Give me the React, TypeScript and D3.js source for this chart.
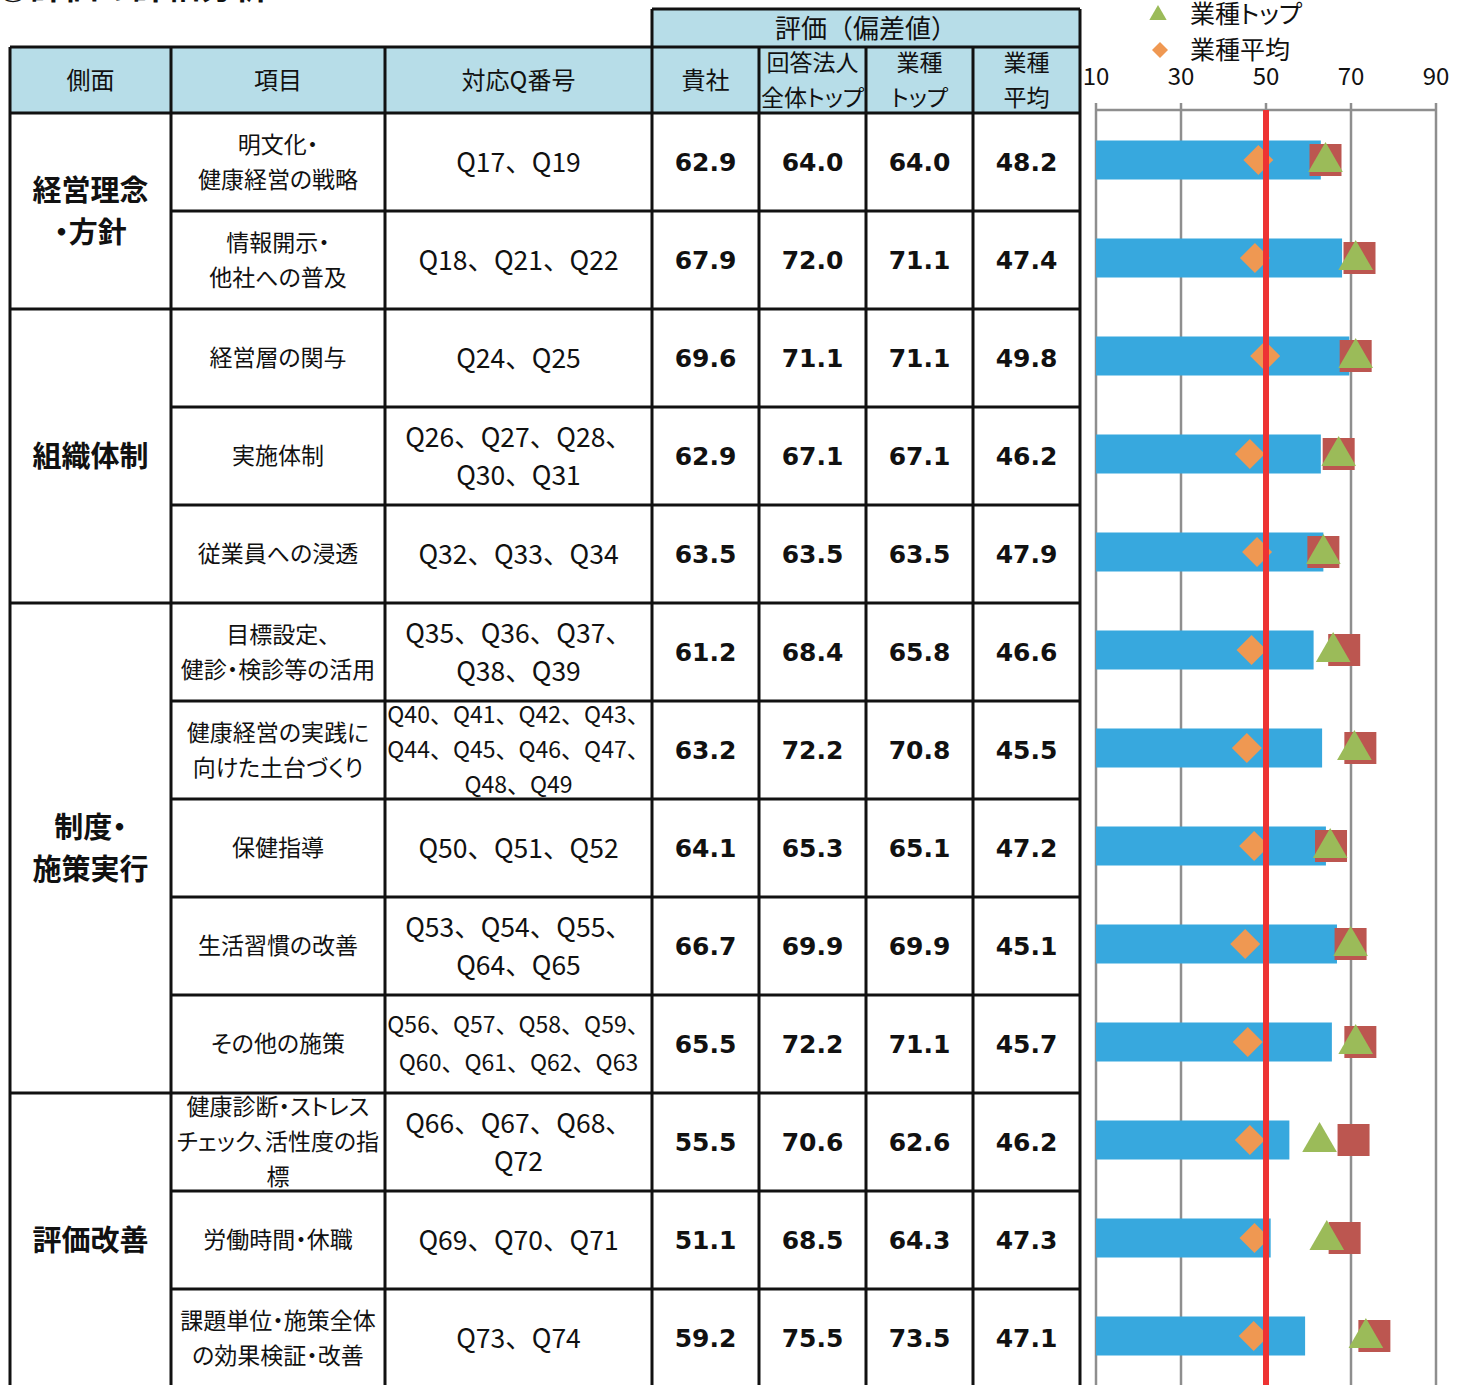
import React from 'react';
import * as d3 from 'd3';

const groups = ['経営理念\n・方針', '組織体制', '制度・\n施策実行', '評価改善'];
const groupSizes = [2, 3, 5, 3];

const items = [
  '明文化・\n健康経営の戦略',
  '情報開示・\n他社への普及',
  '経営層の関与',
  '実施体制',
  '従業員への浸透',
  '目標設定、\n健診・検診等の活用',
  '健康経営の実践に\n向けた土台づくり',
  '保健指導',
  '生活習慣の改善',
  'その他の施策',
  '健康診断・ストレス\nチェック、活性度の指\n標',
  '労働時間・休職',
  '課題単位・施策全体\nの効果検証・改善',
];

const questions = [
  'Q17、Q19',
  'Q18、Q21、Q22',
  'Q24、Q25',
  'Q26、Q27、Q28、\nQ30、Q31',
  'Q32、Q33、Q34',
  'Q35、Q36、Q37、\nQ38、Q39',
  'Q40、Q41、Q42、Q43、\nQ44、Q45、Q46、Q47、\nQ48、Q49',
  'Q50、Q51、Q52',
  'Q53、Q54、Q55、\nQ64、Q65',
  'Q56、Q57、Q58、Q59、\nQ60、Q61、Q62、Q63',
  'Q66、Q67、Q68、\nQ72',
  'Q69、Q70、Q71',
  'Q73、Q74',
];

const company = [62.9, 67.9, 69.6, 62.9, 63.5, 61.2, 63.2, 64.1, 66.7, 65.5, 55.5, 51.1, 59.2];
const overallTop = [64.0, 72.0, 71.1, 67.1, 63.5, 68.4, 72.2, 65.3, 69.9, 72.2, 70.6, 68.5, 75.5];
const industryTop = [64.0, 71.1, 71.1, 67.1, 63.5, 65.8, 70.8, 65.1, 69.9, 71.1, 62.6, 64.3, 73.5];
const industryAvg = [48.2, 47.4, 49.8, 46.2, 47.9, 46.6, 45.5, 47.2, 45.1, 45.7, 46.2, 47.3, 47.1];

const axisTicks = [10, 30, 50, 70, 90];
const referenceValue = 50;

const W = 1462;
const H = 1385;
const FONT = "'Noto Sans CJK JP', 'Noto Sans', sans-serif";
const NUM_FONT = "'DejaVu Sans', Verdana, sans-serif";
const PALT = { fontFeatureSettings: '"palt"' } as React.CSSProperties;

const colX = [10, 171, 385, 652, 759, 866, 973, 1080];
const headTop = 47;
const evalTop = 9;
const bodyTop = 113;
const rowH = 98;

const C = {
  header: '#b7dde8',
  bar: '#37a8de',
  diamond: '#ef9852',
  square: '#bc5650',
  triangle: '#9bbb59',
  ref: '#ee3333',
  grid: '#8e8e8e',
};

const MultiLine: React.FC<{ x: number; y: number; text: string; gap: number; size: number; bold?: boolean; palt?: boolean }> = ({ x, y, text, gap, size, bold, palt = true }) => {
  const lines = text.split('\n');
  const start = y - 2 - ((lines.length - 1) * gap) / 2;
  return (
    <text x={x} textAnchor="middle" fontSize={size} fontWeight={bold ? 700 : 400} fontFamily={FONT} fill="#111" style={palt ? PALT : undefined}>
      {lines.map((l, i) => (
        <tspan key={i} x={x} y={start + i * gap} dominantBaseline="central">{l}</tspan>
      ))}
    </text>
  );
};

export default function App() {
  const n = items.length;
  const rows = d3.range(n);
  const yBand = d3.scaleBand<number>().domain(rows).range([bodyTop, bodyTop + n * rowH]).padding(0);
  const rowMid = (i: number) => (yBand(i) as number) + rowH / 2;

  const x = d3.scaleLinear().domain([10, 90]).range([1096, 1436]);
  const markY = (i: number) => rowMid(i) - 2;
  const barH = 39;
  const sq = 32;
  const tri = d3.symbol().type(d3.symbolTriangle).size(520)();
  const dia = (cx: number, cy: number, r: number) => `M${cx},${cy - r}L${cx + r},${cy}L${cx},${cy + r}L${cx - r},${cy}Z`;

  const groupStarts: number[] = [];
  groupSizes.reduce((acc, s) => { groupStarts.push(acc); return acc + s; }, 0);

  const valueCols = [company, overallTop, industryTop, industryAvg];
  const bottom = bodyTop + n * rowH;

  // long question lists are shrunk to fit the cell
  const qSize = (q: string) => (q.split('\n').some(l => l.split('Q').length - 1 > 3) ? 23 : 26.5);

  return (
    <div style={{ position: 'absolute', left: 0, top: 0 }}>
      <svg width={W} height={H} style={{ display: 'block', background: '#fff' }}>
        {/* title, mostly cut off */}
        <text x={-4} y={-1} fontSize={34} fontWeight={700} fontFamily={FONT} fill="#111">①評価の詳細分析</text>

        {/* header fills */}
        <rect x={colX[0]} y={headTop} width={colX[3] - colX[0]} height={bodyTop - headTop} fill={C.header} />
        <rect x={colX[3]} y={evalTop} width={colX[7] - colX[3]} height={bodyTop - evalTop} fill={C.header} />

        {/* header texts */}
        <MultiLine x={(colX[0] + colX[1]) / 2} y={80} gap={35} size={24} text="側面" />
        <MultiLine x={(colX[1] + colX[2]) / 2} y={80} gap={35} size={24} text="項目" />
        <MultiLine x={(colX[2] + colX[3]) / 2} y={80} gap={35} size={24} text="対応Q番号" />
        <MultiLine x={(colX[3] + colX[7]) / 2} y={28} gap={35} size={26} text="評価（偏差値）" palt={false} />
        <MultiLine x={(colX[3] + colX[4]) / 2} y={80} gap={35} size={24} text="貴社" />
        <MultiLine x={(colX[4] + colX[5]) / 2} y={80} gap={35} size={23} text={'回答法人\n全体トップ'} />
        <MultiLine x={(colX[5] + colX[6]) / 2} y={80} gap={35} size={23} text={'業種\nトップ'} />
        <MultiLine x={(colX[6] + colX[7]) / 2} y={80} gap={35} size={23} text={'業種\n平均'} />

        {/* body texts */}
        {groups.map((g, gi) => {
          const y0 = yBand(groupStarts[gi]) as number;
          const y1 = y0 + groupSizes[gi] * rowH;
          return <MultiLine key={gi} x={(colX[0] + colX[1]) / 2} y={(y0 + y1) / 2} gap={42} size={29} bold text={g} />;
        })}
        {rows.map(i => (
          <g key={i}>
            <MultiLine x={(colX[1] + colX[2]) / 2} y={rowMid(i)} gap={35} size={23} text={items[i]} />
            <MultiLine x={(colX[2] + colX[3]) / 2} y={rowMid(i)} gap={questions[i].split('\n').length > 2 ? 35 : 38} size={qSize(questions[i])} text={questions[i]} palt={false} />
            {valueCols.map((col, ci) => (
              <text key={ci} x={(colX[3 + ci] + colX[4 + ci]) / 2} y={rowMid(i)} dominantBaseline="central" textAnchor="middle" fontSize={25} fontWeight={700} fontFamily={NUM_FONT} fill="#111">
                {col[i].toFixed(1)}
              </text>
            ))}
          </g>
        ))}

        {/* table lines */}
        <g stroke="#111" strokeWidth={3} fill="none">
          <line x1={colX[0]} x2={colX[3]} y1={headTop} y2={headTop} />
          <line x1={colX[3]} x2={colX[7]} y1={evalTop} y2={evalTop} />
          <line x1={colX[3]} x2={colX[7]} y1={headTop} y2={headTop} />
          <line x1={colX[0]} x2={colX[7]} y1={bodyTop} y2={bodyTop} />
          {rows.slice(1).map(i => (
            <line key={i} x1={groupStarts.includes(i) ? colX[0] : colX[1]} x2={colX[7]} y1={yBand(i) as number} y2={yBand(i) as number} />
          ))}
          {colX.map((cx, ci) => (
            <line key={ci} x1={cx} x2={cx} y1={ci === 3 || ci === 7 ? evalTop : headTop} y2={bottom} />
          ))}
        </g>

        {/* chart: gridlines and axis */}
        <g>
          {axisTicks.map(t => (
            <g key={t}>
              <line x1={x(t)} x2={x(t)} y1={103} y2={H} stroke={C.grid} strokeWidth={2.5} />
              <text x={x(t)} y={74} dominantBaseline="central" textAnchor="middle" fontSize={24} fontFamily={FONT} fill="#111">{t}</text>
            </g>
          ))}
          <line x1={x(10)} x2={x(90)} y1={110} y2={110} stroke={C.grid} strokeWidth={2.5} />
        </g>

        {/* bars and markers */}
        {rows.map(i => (
          <rect key={'b' + i} x={x(10)} y={markY(i) - barH / 2} width={x(company[i]) - x(10)} height={barH} fill={C.bar} />
        ))}
        {rows.map(i => (
          <path key={'d' + i} d={dia(x(industryAvg[i]), markY(i), 15)} fill={C.diamond} />
        ))}
        {rows.map(i => (
          <rect key={'s' + i} x={x(overallTop[i]) - sq / 2} y={markY(i) - sq / 2} width={sq} height={sq} fill={C.square} />
        ))}
        {rows.map(i => (
          <path key={'t' + i} d={tri || ''} transform={`translate(${x(industryTop[i])},${markY(i) + 2})`} fill={C.triangle} />
        ))}
        <line x1={x(referenceValue)} x2={x(referenceValue)} y1={110} y2={H} stroke={C.ref} strokeWidth={6} />

        {/* legend */}
        <path d={d3.symbol().type(d3.symbolTriangle).size(130)() || ''} transform="translate(1158,15)" fill={C.triangle} />
        <text x={1190} y={12} dominantBaseline="central" fontSize={25} fontFamily={FONT} fill="#111" style={PALT}>業種トップ</text>
        <path d={dia(1160, 50, 8)} fill={C.diamond} />
        <text x={1190} y={48} dominantBaseline="central" fontSize={25} fontFamily={FONT} fill="#111" style={PALT}>業種平均</text>
      </svg>
    </div>
  );
}
